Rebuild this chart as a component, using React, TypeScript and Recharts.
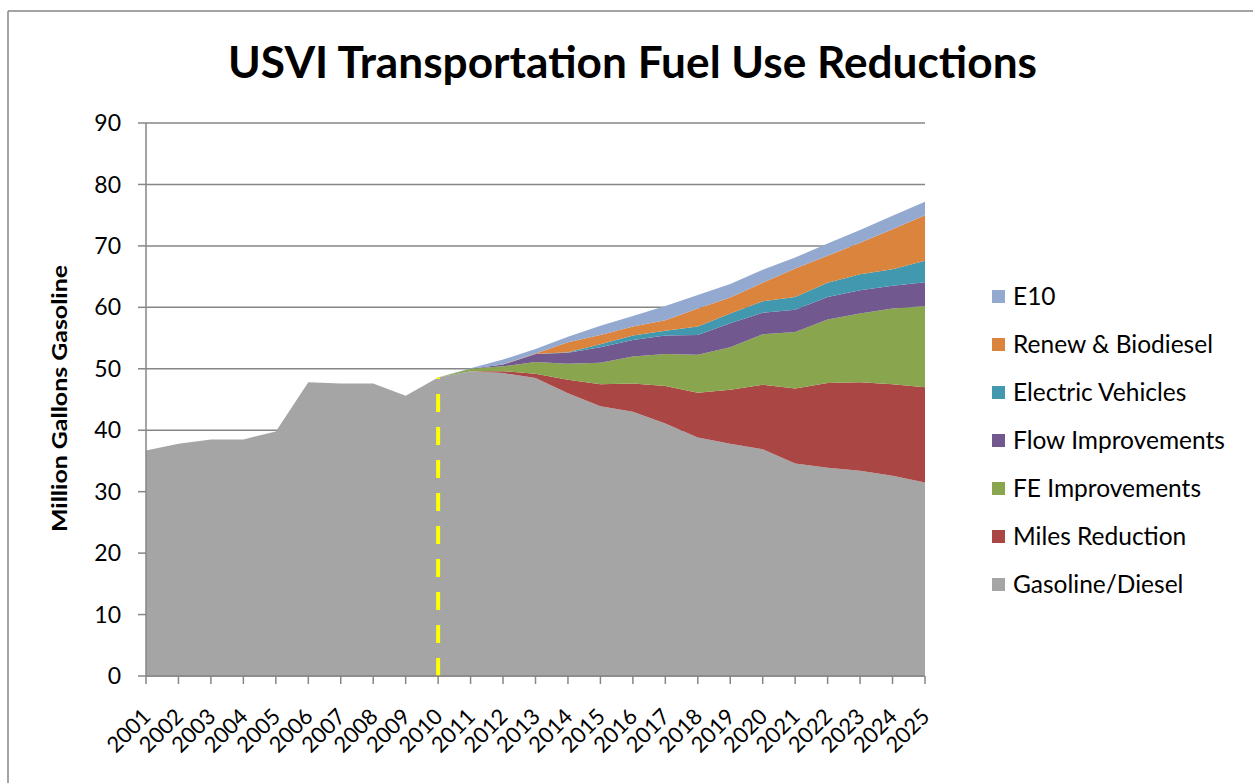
import React from "react";
import {
  AreaChart,
  Area,
  XAxis,
  YAxis,
  CartesianGrid,
  ReferenceLine,
} from "recharts";

const YEARS = [
  "2001", "2002", "2003", "2004", "2005", "2006", "2007", "2008", "2009", "2010",
  "2011", "2012", "2013", "2014", "2015", "2016", "2017", "2018", "2019", "2020",
  "2021", "2022", "2023", "2024", "2025",
];

const GASOLINE = [
  36.7, 37.8, 38.5, 38.5, 39.8, 47.8, 47.6, 47.6, 45.6, 48.6,
  49.6, 49.3, 48.5, 46.0, 43.9, 43.0, 41.1, 38.8, 37.8, 36.9,
  34.6, 33.9, 33.4, 32.6, 31.5,
];
const MILES = [
  0, 0, 0, 0, 0, 0, 0, 0, 0, 0,
  0, 0.3, 0.7, 2.2, 3.6, 4.6, 6.1, 7.3, 8.8, 10.5,
  12.2, 13.8, 14.4, 14.9, 15.5,
];
const FE = [
  0, 0, 0, 0, 0, 0, 0, 0, 0, 0,
  0.4, 0.8, 1.9, 2.6, 3.5, 4.4, 5.2, 6.2, 6.9, 8.2,
  9.2, 10.3, 11.2, 12.3, 13.2,
];
const FLOW = [
  0, 0, 0, 0, 0, 0, 0, 0, 0, 0,
  0, 0.3, 1.3, 1.8, 2.5, 2.7, 3.0, 3.2, 3.9, 3.5,
  3.6, 3.7, 3.8, 3.7, 3.9,
];
const EV = [
  0, 0, 0, 0, 0, 0, 0, 0, 0, 0,
  0, 0, 0, 0.1, 0.5, 0.7, 0.8, 1.4, 1.6, 1.9,
  2.1, 2.3, 2.6, 2.7, 3.5,
];
const RENEW = [
  0, 0, 0, 0, 0, 0, 0, 0, 0, 0,
  0, 0, 0.1, 1.6, 1.5, 1.5, 1.7, 2.9, 2.6, 3.0,
  4.6, 4.4, 5.1, 6.5, 7.4,
];
const E10 = [
  0, 0, 0, 0, 0, 0, 0, 0, 0, 0,
  0.1, 0.8, 0.7, 0.9, 1.5, 1.7, 2.3, 2.2, 2.2, 2.1,
  1.8, 2.0, 2.1, 2.2, 2.2,
];

const Y_TICKS = [0, 10, 20, 30, 40, 50, 60, 70, 80, 90];

// bottom of the stack first
const SERIES = [
  { key: "gasoline", name: "Gasoline/Diesel", color: "#A5A5A5", values: GASOLINE },
  { key: "miles", name: "Miles Reduction", color: "#AA4643", values: MILES },
  { key: "fe", name: "FE Improvements", color: "#89A54E", values: FE },
  { key: "flow", name: "Flow Improvements", color: "#71588F", values: FLOW },
  { key: "ev", name: "Electric Vehicles", color: "#4198AF", values: EV },
  { key: "renew", name: "Renew & Biodiesel", color: "#DB843D", values: RENEW },
  { key: "e10", name: "E10", color: "#93A9CF", values: E10 },
];

const data = YEARS.map((year, i) => {
  const row: Record<string, string | number> = { year };
  SERIES.forEach((s) => {
    row[s.key] = s.values[i];
  });
  return row;
});

const FONT = "Lato, 'Open Sans', sans-serif";

function YearTick({ x, y, payload }: any) {
  return (
    <g transform={`translate(${x + 6},${y + 32})`}>
      <text
        x={0}
        y={0}
        textAnchor="end"
        transform="rotate(-45)"
        fontSize={22}
        fontFamily={FONT}
        fill="#000"
      >
        {payload.value}
      </text>
    </g>
  );
}

export default function App() {
  const legendItems = [...SERIES].reverse();
  return (
    <div
      style={{
        position: "absolute",
        left: 0,
        top: 0,
        width: 1253,
        height: 783,
        background: "#fff",
        overflow: "hidden",
      }}
    >
      <AreaChart
        width={1253}
        height={783}
        data={data}
        margin={{ top: 123, right: 328, bottom: 47, left: 86 }}
      >
        <CartesianGrid
          horizontal
          vertical={false}
          stroke="#868686"
          strokeWidth={1.5}
        />
        <XAxis
          dataKey="year"
          height={60}
          interval={0}
          tick={<YearTick />}
          tickSize={8}
          axisLine={{ stroke: "#868686", strokeWidth: 1.5 }}
          tickLine={{ stroke: "#868686", strokeWidth: 1.5 }}
        />
        <YAxis
          width={60}
          domain={[0, 90]}
          ticks={Y_TICKS}
          interval={0}
          tickSize={8}
          tickMargin={17}
          tick={{ fontSize: 23, fill: "#000", fontFamily: FONT }}
          axisLine={{ stroke: "#868686", strokeWidth: 1.5 }}
          tickLine={{ stroke: "#868686", strokeWidth: 1.5 }}
        />
        {SERIES.map((s) => (
          <Area
            key={s.key}
            type="linear"
            dataKey={s.key}
            name={s.name}
            stackId="fuel"
            stroke="none"
            fill={s.color}
            fillOpacity={1}
            isAnimationActive={false}
            dot={false}
            activeDot={false}
          />
        ))}
        <ReferenceLine
          segment={[
            { x: "2010", y: 0 },
            { x: "2010", y: GASOLINE[9] },
          ]}
          stroke="#FFFF00"
          strokeWidth={4}
          strokeDasharray="18 15"
        />
      </AreaChart>

      <svg
        width={1253}
        height={783}
        style={{ position: "absolute", left: 0, top: 0, pointerEvents: "none" }}
      >
        <line x1={8} y1={11} x2={1253} y2={11} stroke="#868686" strokeWidth={1.5} />
        <line x1={8} y1={11} x2={8} y2={783} stroke="#868686" strokeWidth={1.5} />
        <text
          x={228}
          y={78}
          fontSize={43}
          fontWeight="bold"
          fontFamily={FONT}
          textLength={809}
          lengthAdjust="spacingAndGlyphs"
          fill="#000"
        >
          USVI Transportation Fuel Use Reductions
        </text>
        <text
          transform="translate(67,532) rotate(-90)"
          x={0}
          y={0}
          fontSize={20}
          fontWeight="bold"
          fontFamily={FONT}
          textLength={267}
          lengthAdjust="spacingAndGlyphs"
          fill="#000"
        >
          Million Gallons Gasoline
        </text>
        {legendItems.map((s, i) => {
          const cy = 297 + i * 48;
          return (
            <g key={s.key}>
              <rect x={992} y={cy - 7} width={13} height={13} fill={s.color} />
              <text
                x={1013}
                y={cy + 8}
                fontSize={24.5}
                fontFamily={FONT}
                fill="#000"
              >
                {s.name}
              </text>
            </g>
          );
        })}
      </svg>
    </div>
  );
}
